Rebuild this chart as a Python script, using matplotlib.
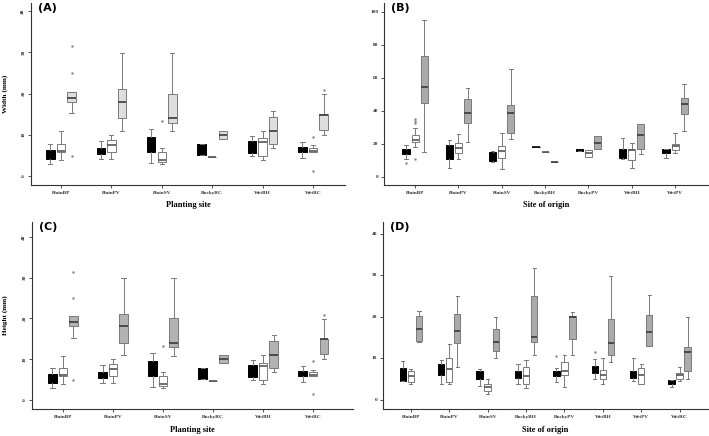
import matplotlib
matplotlib.use("Agg")
import matplotlib.pyplot as plt

# site names
plant_sites = ['PlainBP', 'PlainPV', 'PlainSV', 'RockyRC', 'WetBH', 'WetRC']
origin_sites_b = ['PlainBP', 'PlainPV', 'PlainSV', 'RockyBH', 'RockyPV', 'WetBH', 'WetPV']
origin_sites_d = ['PlainBP', 'PlainPV', 'PlainSV', 'RockyBH', 'RockyPV', 'WetBH', 'WetPV', 'WetRC']

# box stats per site: (whislo, q1, med, q3, whishi)
# (A) width by planting site
a_black = [(2.9, 4.0, 5.2, 6.3, 7.8), (4.2, 5.3, 6.1, 6.9, 8.6), (3.2, 5.9, 7.5, 9.4, 11.5),
           (5.0, 5.0, 6.3, 7.7, 7.7), (4.8, 5.5, 7.0, 8.6, 9.8), (4.3, 5.9, 6.5, 7.1, 8.3)]
a_white = [(3.9, 5.7, 6.1, 7.8, 10.8), (4.2, 5.7, 7.5, 8.7, 9.9), (2.8, 3.3, 3.9, 5.7, 6.9),
           (4.7, 4.7, 4.7, 4.7, 4.7), (3.8, 4.8, 8.2, 9.1, 11.0), (5.7, 5.7, 6.1, 6.7, 7.4)]
a_gray = [(15.2, 18.0, 18.9, 20.3, 20.3), (10.8, 14.0, 17.9, 21.0, 29.9), (10.8, 12.9, 14.0, 20.0, 29.9),
          (8.9, 8.9, 9.9, 10.9, 10.9), (6.9, 7.8, 10.9, 14.4, 15.8), (9.9, 11.2, 14.9, 15.0, 19.8)]
a_black_fl = [[], [], [], [], [], []]
a_white_fl = [[], [], [13.3], [], [], [9.5, 1.3]]
a_gray_fl = [[31.5, 25.1, 4.9], [], [], [], [], [20.8]]

# (B) width by site of origin
b_black = [(11.1, 14.1, 15.5, 17.2, 19.4), (5.9, 11.3, 15.0, 19.6, 22.6), (9.1, 10.1, 12.5, 15.0, 16.0),
           (18.2, 18.2, 18.2, 18.2, 18.2), (16.2, 16.2, 16.8, 17.4, 17.4), (11.3, 11.9, 14.5, 17.4, 24.0),
           (11.5, 14.7, 16.0, 17.4, 17.4)]
b_white = [(18.6, 21.6, 22.6, 25.3, 30.1), (11.1, 14.5, 18.0, 20.6, 26.1), (4.8, 11.9, 16.2, 19.2, 27.1),
           (15.2, 15.2, 15.2, 15.2, 15.2), (12.5, 12.5, 14.5, 16.6, 16.6), (5.5, 10.5, 16.6, 17.0, 21.0),
           (14.7, 16.4, 19.0, 20.4, 27.1)]
b_gray = [(15.0, 45.1, 54.5, 73.5, 95.0), (21.4, 32.7, 39.0, 47.7, 53.9), (23.0, 27.1, 39.0, 43.8, 65.5),
          (9.1, 9.1, 9.1, 9.1, 9.1), (17.0, 17.0, 21.0, 24.8, 24.8), (14.1, 17.2, 25.7, 32.3, 32.3),
          (27.9, 38.6, 44.2, 47.9, 56.4)]
b_black_fl = [[8.9], [], [], [], [], [], []]
b_white_fl = [[35.4, 34.1, 32.7, 10.9], [], [], [], [], [], []]
b_gray_fl = [[], [], [], [], [], [], []]

# (C) height by planting site
c_black = [(2.9, 4.1, 5.2, 6.4, 7.8), (4.2, 5.3, 6.1, 6.9, 8.6), (3.2, 5.9, 7.5, 9.4, 11.5),
           (5.0, 5.0, 6.3, 7.7, 7.7), (4.8, 5.5, 7.0, 8.6, 9.8), (4.3, 5.9, 6.5, 7.1, 8.3)]
c_white = [(3.9, 5.7, 6.1, 7.8, 10.8), (4.2, 5.7, 7.5, 8.7, 9.9), (2.8, 3.3, 3.9, 5.7, 6.9),
           (4.7, 4.7, 4.7, 4.7, 4.7), (3.8, 4.8, 8.2, 9.1, 11.0), (5.7, 5.7, 6.1, 6.7, 7.4)]
c_gray = [(15.2, 18.0, 19.1, 20.5, 20.5), (11.0, 14.0, 18.1, 21.1, 30.0), (10.8, 12.9, 14.0, 20.0, 29.9),
          (8.9, 8.9, 9.9, 10.9, 10.9), (6.9, 7.8, 10.9, 14.4, 15.8), (9.9, 11.2, 14.9, 15.0, 19.8)]
c_black_fl = [[], [], [], [], [], []]
c_white_fl = [[], [], [13.3], [], [], [9.5, 1.3]]
c_gray_fl = [[31.5, 25.1, 4.9], [], [], [], [], [20.8]]

# (D) height by site of origin
d_black = [(4.6, 4.6, 6.0, 7.6, 9.3), (3.9, 6.0, 7.3, 8.6, 9.7), (3.4, 5.0, 6.0, 7.0, 7.4),
           (3.9, 5.2, 6.0, 7.0, 8.5), (4.2, 5.6, 6.3, 7.0, 7.7), (5.0, 6.4, 7.3, 8.2, 9.8),
           (4.5, 5.2, 6.0, 7.0, 10.0), (3.1, 3.8, 4.2, 4.7, 4.7)]
d_white = [(3.9, 4.3, 5.7, 7.0, 7.3), (3.9, 4.3, 7.3, 10.0, 13.4), (1.4, 2.2, 3.0, 3.8, 5.0),
           (2.9, 3.9, 5.8, 7.8, 9.6), (3.1, 6.0, 6.9, 9.0, 10.9), (3.9, 5.0, 6.0, 7.2, 10.0),
           (3.7, 3.7, 6.0, 7.7, 8.7), (4.5, 4.9, 6.0, 6.4, 8.0)]
d_gray = [(14.0, 14.2, 17.0, 20.2, 21.4), (8.0, 13.8, 16.6, 20.7, 25.0), (10.0, 11.8, 14.0, 17.0, 19.9),
          (10.9, 14.0, 15.1, 25.0, 31.7), (10.9, 14.6, 20.0, 20.3, 21.2), (9.2, 10.9, 13.8, 19.5, 29.9),
          (13.0, 13.0, 16.4, 20.4, 25.3), (4.9, 7.0, 11.4, 12.7, 20.0)]
d_black_fl = [[], [], [], [], [10.5], [11.6], [], []]
d_white_fl = [[], [], [], [], [], [], [], []]
d_gray_fl = [[], [], [], [], [], [], [], []]


def make_stats(rows, fliers):
    out = []
    for (lo, q1, med, q3, hi), fl in zip(rows, fliers):
        out.append(dict(whislo=lo, q1=q1, med=med, q3=q3, whishi=hi, fliers=fl))
    return out


def draw_panel(ax, sites, black, white, gray, fls, gray_col, ylim, yticks, rot, letter, xlabel, ylabel=None):
    n = len(sites)
    pos = list(range(1, n + 1))
    w = 0.165
    off = 0.21
    edge = '#7a7a7a'
    fl_kw = dict(marker='.', markersize=1.5, markerfacecolor='#888888', markeredgecolor='#888888', linestyle='none')
    groups = [(black, fls[0], -off, 'black', 'black', 'black'),
              (white, fls[1], 0.0, 'white', edge, '#555555'),
              (gray, fls[2], off, gray_col, edge, '#3a3a3a')]
    for rows, fl, dx, fc, ec, mc in groups:
        ax.bxp(make_stats(rows, fl), positions=[p + dx for p in pos], widths=w,
               patch_artist=True, manage_ticks=False,
               boxprops=dict(facecolor=fc, edgecolor=ec, linewidth=0.7),
               whiskerprops=dict(color=edge, linewidth=0.7),
               capprops=dict(color=edge, linewidth=0.7),
               medianprops=dict(color=mc, linewidth=1.2),
               flierprops=fl_kw)
    ax.set_xticks(pos)
    ax.set_xticklabels(sites, fontsize=3.8, fontweight='bold', family='Liberation Serif')
    ax.set_yticks(yticks)
    ax.set_yticklabels([str(t) for t in yticks], fontsize=3.8, fontweight='bold',
                       family='Liberation Serif', rotation=rot, va='center')
    ax.set_ylim(*ylim)
    ax.tick_params(length=2, width=0.6, colors='#333333', pad=2)
    for s in ['top', 'right']:
        ax.spines[s].set_visible(False)
    for s in ['left', 'bottom']:
        ax.spines[s].set_linewidth(0.8)
        ax.spines[s].set_color('#333333')
    ax.set_xlabel(xlabel, fontsize=6, fontweight='bold', family='Liberation Serif')
    ax.xaxis.set_label_coords(0.5, -0.09)
    if ylabel:
        ax.set_ylabel(ylabel, fontsize=5.2, fontweight='bold', family='Liberation Serif')
        ax.yaxis.set_label_coords(-0.074, 0.5)
    ax.text(0.022, 1.0, letter, transform=ax.transAxes, fontsize=8, fontweight='bold',
            family='DejaVu Sans', va='top', ha='left')


fig = plt.figure(figsize=(7.09, 4.36), dpi=100)

ax_a = fig.add_axes([0.0437, 0.5757, 0.443, 0.4175])
draw_panel(ax_a, plant_sites, a_black, a_white, a_gray, (a_black_fl, a_white_fl, a_gray_fl),
           '#dedede', (-2.2, 42), [0, 10, 20, 30, 40], 90, '(A)', 'Planting site', 'Width (mm)')
ax_a.set_xlim(0.405, 6.635)

ax_b = fig.add_axes([0.5416, 0.5757, 0.457, 0.4175])
draw_panel(ax_b, origin_sites_b, b_black, b_white, b_gray, (b_black_fl, b_white_fl, b_gray_fl),
           '#ababab', (-4.7, 105.6), [0, 20, 40, 60, 80, 100], 0, '(B)', 'Site of origin')
ax_b.set_xlim(0.282, 7.76)

ax_c = fig.add_axes([0.0451, 0.0619, 0.453, 0.429])
draw_panel(ax_c, plant_sites, c_black, c_white, c_gray, (c_black_fl, c_white_fl, c_gray_fl),
           '#b3b3b3', (-2.3, 43.7), [0, 10, 20, 30, 40], 90, '(C)', 'Planting site', 'Height (mm)')
ax_c.set_xlim(0.38, 6.8)

ax_d = fig.add_axes([0.540, 0.0619, 0.458, 0.429])
draw_panel(ax_d, origin_sites_d, d_black, d_white, d_gray, (d_black_fl, d_white_fl, d_gray_fl),
           '#ababab', (-2.25, 42.9), [0, 10, 20, 30, 40], 0, '(D)', 'Site of origin')
ax_d.set_xlim(0.27, 8.73)

fig.savefig('out.png', dpi=100)
